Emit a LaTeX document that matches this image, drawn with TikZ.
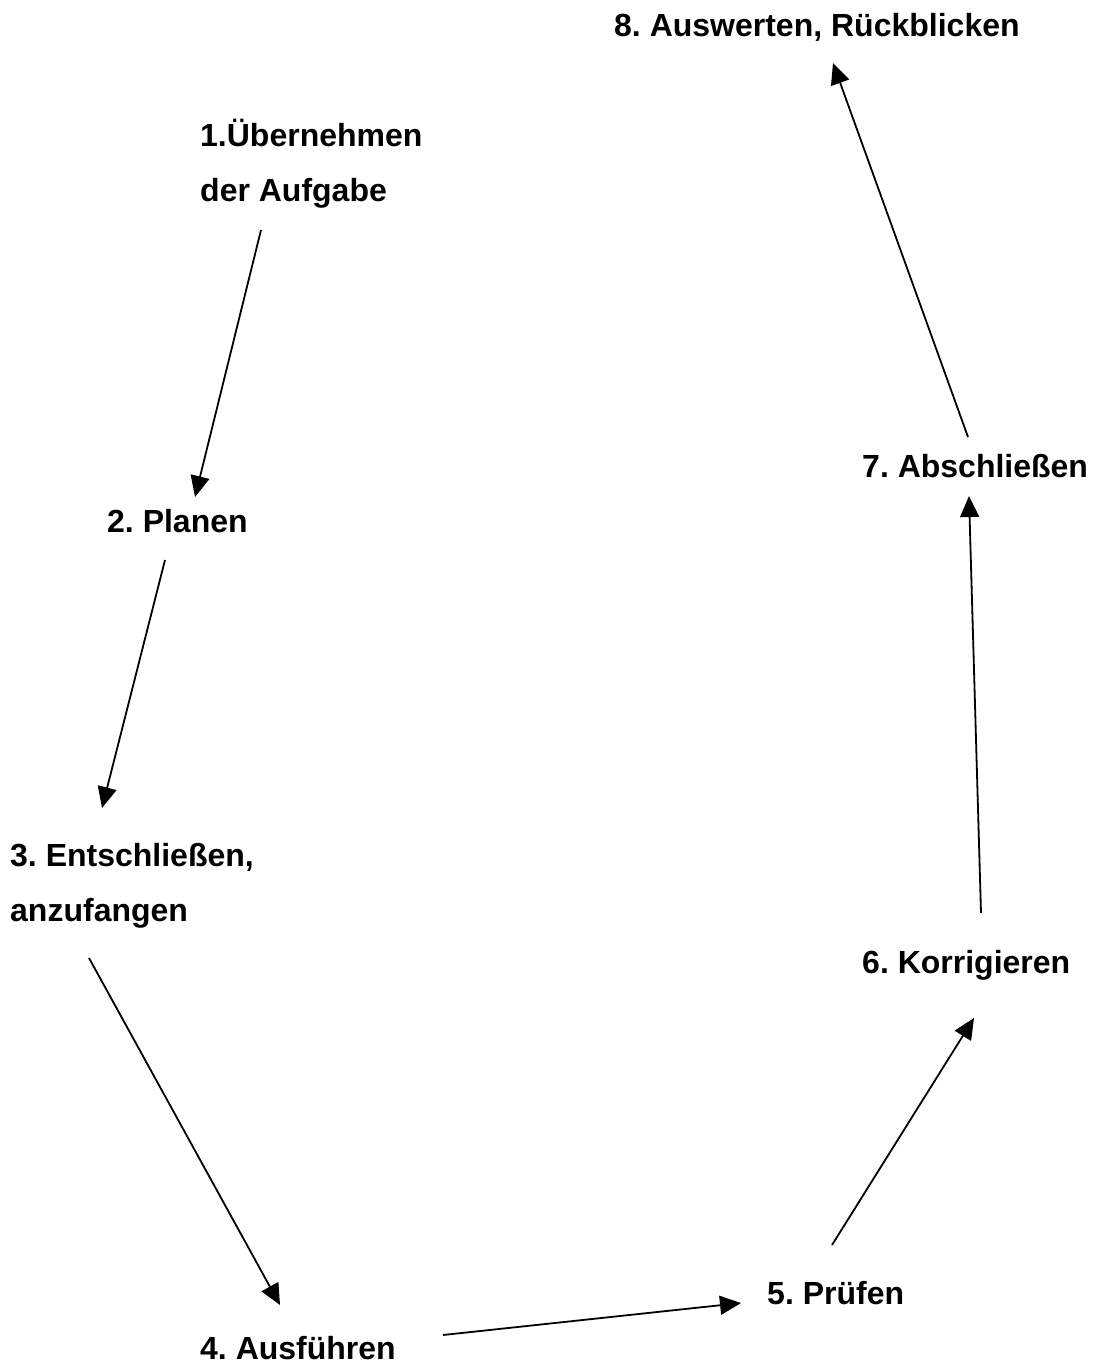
\documentclass[tikz,border=0pt]{standalone}
\usepackage{fontspec}
\setmainfont{Liberation Sans}
\usetikzlibrary{arrows.meta}
\begin{document}
\frenchspacing
\begin{tikzpicture}[x=1pt,y=-1pt,
  lbl/.style={anchor=base west,inner sep=0pt,align=left,font=\bfseries\fontsize{32}{55}\selectfont},
  conn/.style={line width=1.8pt,-{Triangle[length=21pt,width=19pt]}}]
\useasboundingbox (0,0) rectangle (1096,1366);
\node[lbl] (n8) at (614,36) {8. Auswerten, Rückblicken};
\node[lbl] (n1) at (200,201) {1.Übernehmen\\der Aufgabe};
\node[lbl] (n7) at (862,477) {7. Abschließen};
\node[lbl] (n2) at (107,532) {2. Planen};
\node[lbl] (n3) at (10,921) {3. Entschließen,\\anzufangen};
\node[lbl] (n6) at (862,973) {6. Korrigieren};
\node[lbl] (n5) at (767,1304) {5. Prüfen};
\node[lbl] (n4) at (200,1359) {4. Ausführen};
\coordinate (a1s) at (261,230); \coordinate (a1e) at (195,497);
\coordinate (a2s) at (165,560); \coordinate (a2e) at (102,808);
\coordinate (a3s) at (89,958);  \coordinate (a3e) at (280,1305);
\coordinate (a4s) at (443,1335);\coordinate (a4e) at (741,1303);
\coordinate (a5s) at (832,1245);\coordinate (a5e) at (974,1018);
\coordinate (a6s) at (981,913); \coordinate (a6e) at (969,496);
\coordinate (a7s) at (968,437); \coordinate (a7e) at (833,63);
\draw[conn] (a1s) -- (a1e);
\draw[conn] (a2s) -- (a2e);
\draw[conn] (a3s) -- (a3e);
\draw[conn] (a4s) -- (a4e);
\draw[conn] (a5s) -- (a5e);
\draw[conn] (a6s) -- (a6e);
\draw[conn] (a7s) -- (a7e);
\end{tikzpicture}
\end{document}
